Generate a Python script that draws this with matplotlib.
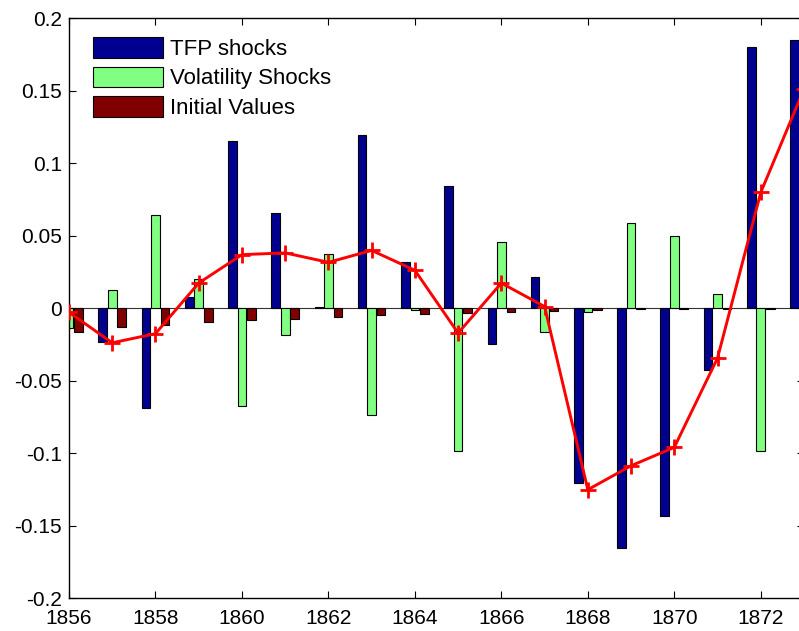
import numpy as np
import matplotlib
matplotlib.use('Agg')
import matplotlib.pyplot as plt

plt.rcParams['font.family'] = ['Liberation Sans', 'DejaVu Sans']

years = np.arange(1856, 1874)
tfp = [0.027, -0.0235, -0.069, 0.0073, 0.1149, 0.0655, 0.0005, 0.1193, 0.0317,
       0.0843, -0.0248, 0.0214, -0.121, -0.1653, -0.1432, -0.0425, 0.1802, 0.185]
vol = [-0.0137, 0.0126, 0.0643, 0.020, -0.0679, -0.0186, 0.0374, -0.074, -0.0015,
       -0.0984, 0.0455, -0.0166, -0.0025, 0.0586, 0.0494, 0.0094, -0.0984, -0.034]
init = [-0.0166, -0.0131, -0.012, -0.0097, -0.0085, -0.0074, -0.0062, -0.0051, -0.0039,
        -0.0035, -0.0026, -0.0023, -0.0012, -0.001, -0.0008, -0.0006, -0.0004, -0.0003]
total = [-0.003, -0.024, -0.0177, 0.0172, 0.0368, 0.038, 0.0315, 0.0397, 0.026,
         -0.0173, 0.0172, 0.001, -0.1253, -0.1088, -0.0961, -0.0345, 0.0797, 0.151]

labels = ['TFP shocks', 'Volatility Shocks', 'Initial Values']
colors = ['#000090', '#80ff80', '#800000']

fig = plt.figure(figsize=(7.99, 6.31), dpi=100)
ax = fig.add_axes([69/799, 1 - 598/631, (804 - 69)/799, (598 - 18)/631])

w = 0.2
for off, vals, lab, c in zip([-0.22, 0, 0.22], [tfp, vol, init], labels, colors):
    ax.bar(years + off, vals, width=w, color=c, edgecolor='black', linewidth=0.8,
           label=lab, zorder=2)
ax.axhline(0, color='#333333', linewidth=0.8, zorder=1)
ax.plot(years, total, color='red', linewidth=2.1, marker='+', markersize=11,
        markeredgewidth=2, zorder=3)

ax.set_xlim(1856, 1873)
ax.set_ylim(-0.2, 0.2)
ax.set_xticks(np.arange(1856, 1873, 2))
yt = np.arange(-0.2, 0.2001, 0.05)
ax.set_yticks(yt)
ax.set_yticklabels(['%g' % round(v, 2) if abs(v) > 1e-9 else '0' for v in yt])
ax.tick_params(direction='in', length=5, width=0.8, labelsize=15,
               top=True, right=True)
ax.tick_params(axis='x', pad=8)
ax.tick_params(axis='y', pad=5)
for s in ax.spines.values():
    s.set_linewidth(1.0)

ax.legend(loc='upper left', bbox_to_anchor=(93/799, 1 - 37/631),
          bbox_transform=fig.transFigure, frameon=False, fontsize=16,
          handlelength=3.15, handleheight=1.05, labelspacing=0.3,
          handletextpad=0.3, borderpad=0, borderaxespad=0)

fig.savefig('out.png', dpi=100)
